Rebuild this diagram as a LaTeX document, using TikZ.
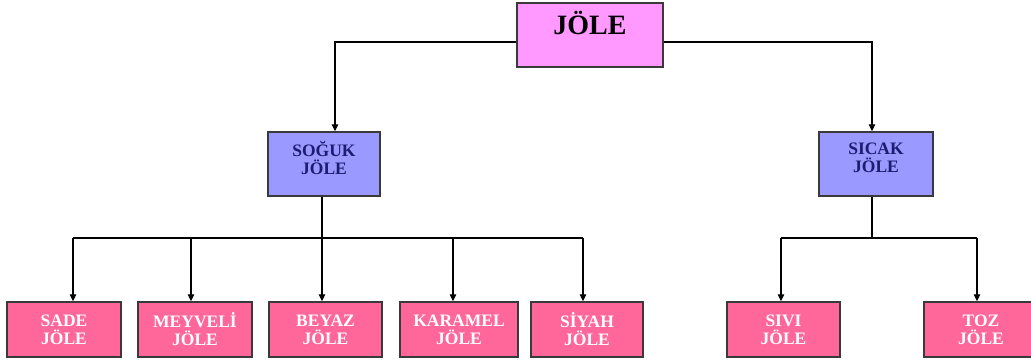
\documentclass[tikz,border=0pt]{standalone}
\usepackage{fontspec}
\setmainfont{Liberation Serif}
\usetikzlibrary{arrows.meta}
\definecolor{toppink}{HTML}{FF99FF}
\definecolor{midblue}{HTML}{9999FF}
\definecolor{botpink}{HTML}{FF6699}
\definecolor{navytext}{HTML}{1C1C70}
\definecolor{boxline}{HTML}{3A3A3A}
\newcommand{\upstrut}{\rule[-12pt]{0pt}{12pt}}
\tikzset{
  boxbase/.style={draw=boxline, line width=1.5pt, inner sep=0pt, align=center},
  topbox/.style={boxbase, fill=toppink, minimum width=146pt, minimum height=64pt,
    font=\fontsize{28}{30}\selectfont\bfseries, text=black, text height=19pt, text depth=19pt},
  midbox/.style={boxbase, fill=midblue, minimum height=64pt,
    font=\fontsize{17.5}{18}\selectfont\bfseries, text=navytext},
  botbox/.style={boxbase, fill=botpink, minimum height=55pt,
    font=\fontsize{17.5}{18}\selectfont\bfseries, text=white},
  conn/.style={draw=black, line width=1.1pt},
  arr/.style={conn, -{Triangle[length=7pt,width=6.5pt]}}
}
\begin{document}
\begin{tikzpicture}[x=1pt,y=-1pt]
\useasboundingbox (0,0) rectangle (1031,361);
\fill[white] (0,0) rectangle (1031,361);
% boxes
\node[topbox] (top) at (590,35) {JÖLE};
\node[midbox, minimum width=112pt] (soguk) at (324,164) {SOĞUK\\JÖLE\upstrut};
\node[midbox, minimum width=114pt] (sicak) at (876,164) {SICAK\\JÖLE\upstrut};
\node[botbox, minimum width=114pt] (sade) at (64,329.5) {SADE\\JÖLE};
\node[botbox, minimum width=114pt] (meyveli) at (195,329.5) {MEYVELİ\\JÖLE};
\node[botbox, minimum width=113pt] (beyaz) at (325.5,329.5) {BEYAZ\\JÖLE};
\node[botbox, minimum width=118pt] (karamel) at (459,329.5) {KARAMEL\\JÖLE};
\node[botbox, minimum width=112pt] (siyah) at (587,329.5) {SİYAH\\JÖLE};
\node[botbox, minimum width=113pt] (sivi) at (783.5,329.5) {SIVI\\JÖLE};
\node[botbox, minimum width=114pt] (toz) at (981,329.5) {TOZ\\JÖLE};
% top connectors
\draw[arr] ([yshift=-7pt]top.west) -| ([xshift=11pt]soguk.north);
\draw[arr] ([yshift=-7pt]top.east) -| ([xshift=-4pt]sicak.north);
% bus coordinates
\coordinate (bus1) at ([xshift=-2pt]soguk.south |- 0,238);
\coordinate (bus2) at ([xshift=-4pt]sicak.south |- 0,238);
\draw[conn] ([xshift=-2pt]soguk.south) -- (bus1);
\draw[conn] ([xshift=-4pt]sicak.south) -- (bus2);
\draw[conn] ([xshift=9pt]sade.north |- bus1) -- ([xshift=-4pt]siyah.north |- bus1);
\draw[conn] ([xshift=-2.5pt]sivi.north |- bus2) -- ([xshift=-4pt]toz.north |- bus2);
% arrows down
\draw[arr] ([xshift=9pt]sade.north |- bus1) -- ([xshift=9pt]sade.north);
\draw[arr] ([xshift=-4pt]meyveli.north |- bus1) -- ([xshift=-4pt]meyveli.north);
\draw[arr] ([xshift=-3.5pt]beyaz.north |- bus1) -- ([xshift=-3.5pt]beyaz.north);
\draw[arr] ([xshift=-6pt]karamel.north |- bus1) -- ([xshift=-6pt]karamel.north);
\draw[arr] ([xshift=-4pt]siyah.north |- bus1) -- ([xshift=-4pt]siyah.north);
\draw[arr] ([xshift=-2.5pt]sivi.north |- bus2) -- ([xshift=-2.5pt]sivi.north);
\draw[arr] ([xshift=-4pt]toz.north |- bus2) -- ([xshift=-4pt]toz.north);
\end{tikzpicture}
\end{document}
